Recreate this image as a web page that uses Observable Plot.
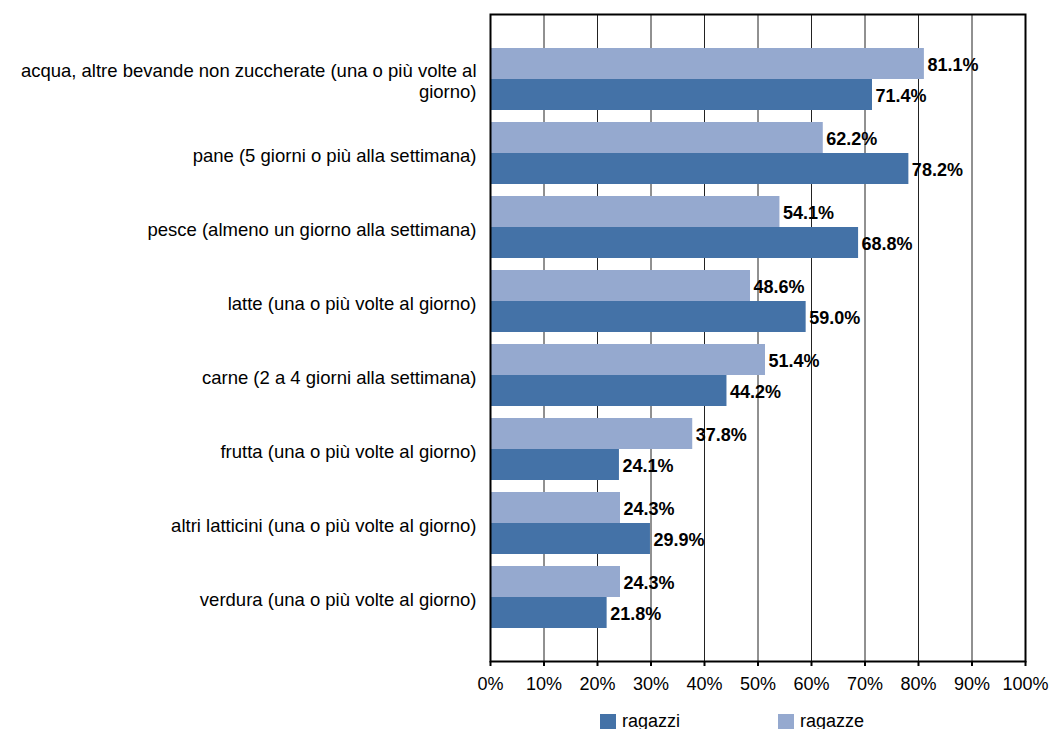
<!DOCTYPE html>
<html>
<head>
<meta charset="utf-8">
<script src="https://cdn.jsdelivr.net/npm/d3@7"></script>
<script src="https://cdn.jsdelivr.net/npm/@observablehq/plot@0.6"></script>
<style>
  html, body { margin: 0; padding: 0; background: #fff; }
  #wrap { position: relative; width: 1050px; height: 729px; overflow: hidden; font-family: "Liberation Sans", Arial, sans-serif; }
  .leg { position: absolute; top: 711px; display: flex; align-items: center; font-size: 18px; color: #000; }
  .sw { width: 16px; height: 16px; margin-right: 6px; }
</style>
</head>
<body>
<div id="wrap">
  <div id="chart"></div>
  <div class="leg" style="left:600px"><div class="sw" style="background:#4472a7"></div><span>ragazzi</span></div>
  <div class="leg" style="left:778px"><div class="sw" style="background:#95a9cf"></div><span>ragazze</span></div>
</div>
<script>
const categories = [
  "acqua, altre bevande non zuccherate (una o più volte al giorno)",
  "pane (5 giorni o più alla settimana)",
  "pesce (almeno un giorno alla settimana)",
  "latte (una o più volte al giorno)",
  "carne (2 a 4 giorni alla settimana)",
  "frutta (una o più volte al giorno)",
  "altri latticini (una o più volte al giorno)",
  "verdura (una o più volte al giorno)"
];
const ragazzi = [71.4, 78.2, 68.8, 59.0, 44.2, 24.1, 29.9, 21.8];
const ragazze = [81.1, 62.2, 54.1, 48.6, 51.4, 37.8, 24.3, 24.3];
const xTicks = [0, 10, 20, 30, 40, 50, 60, 70, 80, 90, 100];

const colorRagazzi = "#4472a7";
const colorRagazze = "#95a9cf";

const data = categories.map((c, i) => ({category: c, ragazzi: ragazzi[i], ragazze: ragazze[i]}));

const W = 1050, H = 706, mT = 14, mB = 45, mL = 490, mR = 25;
const pIn = 0.167, pOut = 0.43;
const step = (H - mT - mB) / (categories.length - pIn + 2 * pOut);
const bw = step * (1 - pIn);
const half = bw / 2;

const wrapLabel = d => d === categories[0] ? d.replace("volte al giorno)", "volte al\ngiorno)") : d;
const fmt = d => d.toFixed(1) + "%";

const chart = Plot.plot({
  width: W,
  height: H,
  marginTop: mT,
  marginBottom: mB,
  marginLeft: mL,
  marginRight: mR,
  style: {fontFamily: "'Liberation Sans', Arial, sans-serif", fontSize: "18px", color: "#000", background: "#fff"},
  x: {domain: [0, 100]},
  y: {domain: categories, paddingInner: pIn, paddingOuter: pOut},
  marks: [
    Plot.ruleX(xTicks, {stroke: "#222", strokeWidth: 1}),
    Plot.barX(data, {y: "category", x: "ragazze", fill: colorRagazze, insetBottom: half}),
    Plot.barX(data, {y: "category", x: "ragazzi", fill: colorRagazzi, insetTop: half}),
    Plot.text(data, {y: "category", x: "ragazze", text: d => fmt(d.ragazze), dx: 3, dy: -bw / 4 + 1, textAnchor: "start", fontWeight: "bold", fontSize: 18, fill: "#000"}),
    Plot.text(data, {y: "category", x: "ragazzi", text: d => fmt(d.ragazzi), dx: 3, dy: bw / 4 + 1, textAnchor: "start", fontWeight: "bold", fontSize: 18, fill: "#000"}),
    Plot.frame({stroke: "#000", strokeWidth: 2}),
    Plot.axisX({ticks: xTicks, tickFormat: d => d + "%", tickSize: 5, tickPadding: 11, fontSize: 18, stroke: "#000", strokeWidth: 2, fill: "#000", label: null}),
    Plot.axisY({tickSize: 0, tickPadding: 14, tickFormat: wrapLabel, fontSize: 18.5, lineHeight: 1.14, fill: "#000", dy: 1.5, label: null})
  ]
});
document.getElementById("chart").appendChild(chart);
</script>
</body>
</html>
